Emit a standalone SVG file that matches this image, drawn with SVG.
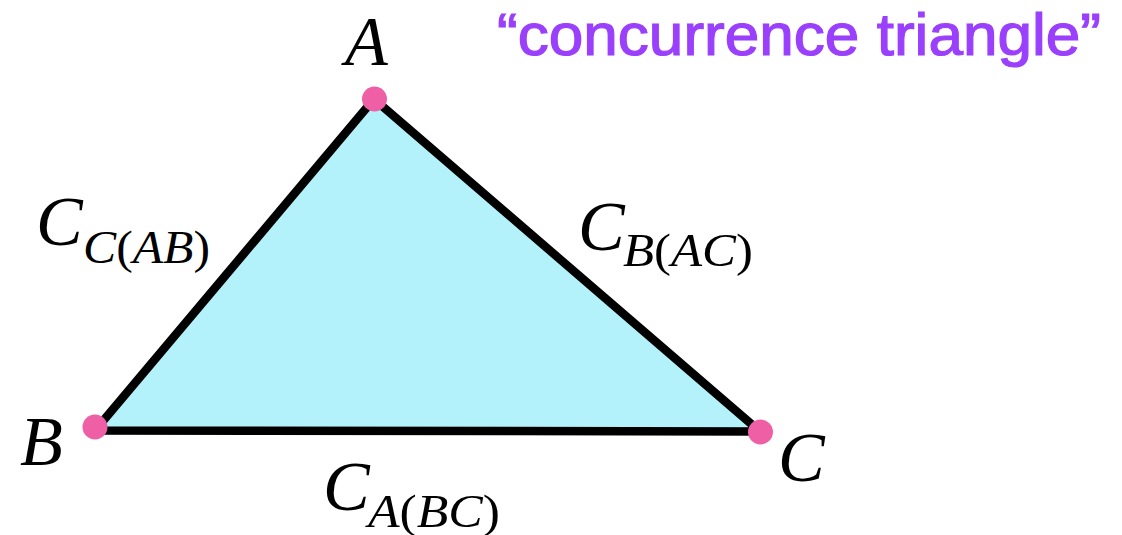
<svg xmlns="http://www.w3.org/2000/svg" width="1122" height="535" viewBox="0 0 1122 535">
<style>
.m{font-family:"Liberation Serif","Times New Roman",serif;font-style:italic;fill:#000}
.big{font-size:70px}
.sub{font-size:46px}
.up{font-style:normal}
.v{font-size:70px}
.dot{fill:#ee5fa6}
.title{font-family:"Liberation Sans",Arial,sans-serif;font-size:59px;fill:#9a40fc;stroke:#9a40fc;stroke-width:1.2px}
</style>
<rect width="1122" height="535" fill="#fff"/>
<g id="connectors">
<polygon points="374,99 95,430.5 760,431.5" fill="#b4f2fb" stroke="#000" stroke-width="8.5" stroke-linejoin="round"/>
</g>
<g id="A"><circle class="dot" cx="374.5" cy="99" r="12.5"/><text class="m v" x="345" y="65">A</text></g>
<g id="B"><circle class="dot" cx="95" cy="427" r="12.5"/><text class="m v" x="20" y="465">B</text></g>
<g id="C"><circle class="dot" cx="760.5" cy="432" r="12.5"/><text class="m v" x="778" y="481">C</text></g>
<g id="labelAB"><text class="m" x="36" y="245"><tspan class="big">C</tspan><tspan class="sub" x="83" y="263" textLength="127" lengthAdjust="spacingAndGlyphs">C<tspan class="up">(</tspan>AB<tspan class="up">)</tspan></tspan></text></g>
<g id="labelAC"><text class="m" x="578" y="250"><tspan class="big">C</tspan><tspan class="sub" x="623" y="266" textLength="130" lengthAdjust="spacingAndGlyphs">B<tspan class="up">(</tspan>AC<tspan class="up">)</tspan></tspan></text></g>
<g id="labelBC"><text class="m" x="323" y="510"><tspan class="big">C</tspan><tspan class="sub" x="368" y="527" textLength="132" lengthAdjust="spacingAndGlyphs">A<tspan class="up">(</tspan>BC<tspan class="up">)</tspan></tspan></text></g>
<g id="title"><text class="title" x="497" y="55" textLength="604" lengthAdjust="spacingAndGlyphs">“concurrence triangle”</text></g>
</svg>
